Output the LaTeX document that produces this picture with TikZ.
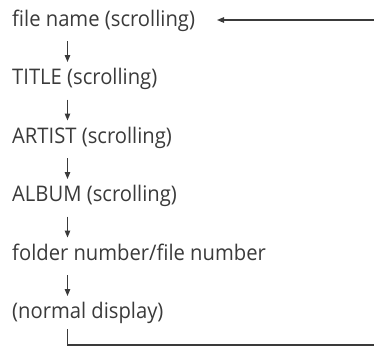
\documentclass[tikz,border=0pt]{standalone}
\usepackage{fontspec}
\setmainfont{Open Sans}[FakeStretch=0.94]
\usetikzlibrary{arrows.meta}
\definecolor{ink}{HTML}{3A3A3A}
\tikzset{
  lbl/.style={anchor=base west, inner sep=0pt, text=ink, font=\fontsize{21.5bp}{24bp}\selectfont},
  arr/.style={draw=ink, line width=1.1bp, -{Triangle[length=7bp,width=5.5bp]}},
  ln/.style={draw=ink, line width=1.1bp}
}
\begin{document}
\begin{tikzpicture}[x=1bp,y=-1bp]
\useasboundingbox (0,0) rectangle (374,351);
\node[lbl] (t1) at (12,26) {file name (scrolling)};
\node[lbl] (t2) at (12,84.5) {TITLE (scrolling)};
\node[lbl] (t3) at (12,143) {ARTIST (scrolling)};
\node[lbl] (t4) at (12,201.5) {ALBUM (scrolling)};
\node[lbl] (t5) at (12,260) {folder number/file number};
\node[lbl] (t6) at (12,318.5) {(normal display)};
\foreach \i/\y in {1/26,2/84.5,3/143,4/201.5,5/260}{
  \coordinate (s\i) at (67.5,\y+15);
  \coordinate (e\i) at (67.5,\y+36);
  \draw[arr] (s\i) -- (e\i);
}
\coordinate (rt) at (374,20);
\coordinate (lt) at (217,20);
\draw[arr] (rt) -- (lt);
\coordinate (bs) at (67.5,329);
\coordinate (be) at (374,345);
\draw[ln] (bs) |- (be);
\end{tikzpicture}
\end{document}
